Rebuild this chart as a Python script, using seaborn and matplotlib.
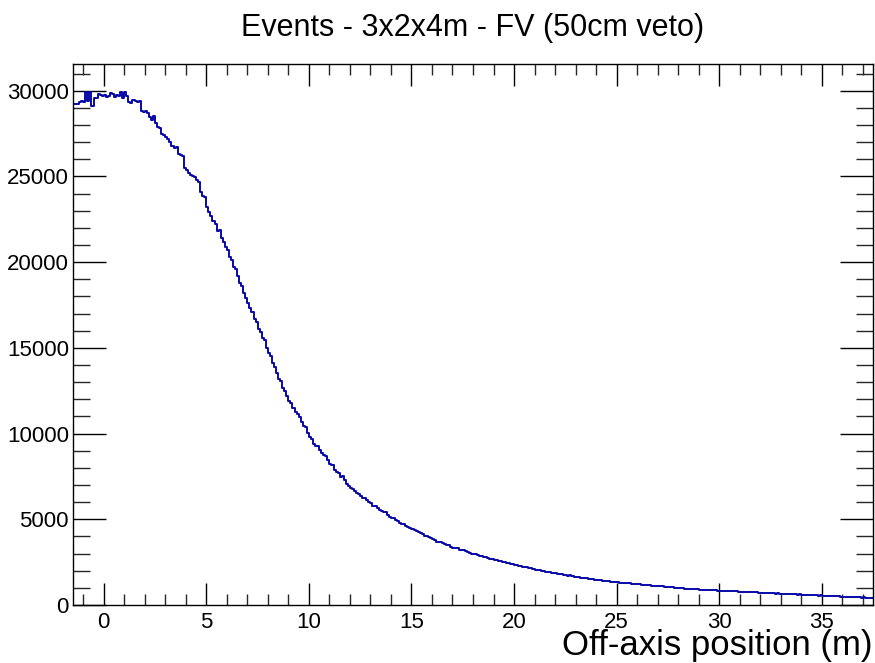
import numpy as np
import pandas as pd
import matplotlib
matplotlib.use("Agg")
import matplotlib.pyplot as plt
import seaborn as sns
from matplotlib.ticker import MultipleLocator

# Histogram: 390 bins of 0.1 m from -1.5 m to 37.5 m
x_min, x_max, bin_width = -1.5, 37.5, 0.1

counts = [
    29200, 29250, 29200, 29350, 29400, 29350, 29950, 29400, 29950, 29100,
    29550, 29600, 29800, 29750, 29700, 29750, 29650, 29700, 29850, 29800,
    29650, 29750, 29700, 29950, 29600, 29900, 29700, 29350, 29300, 29450,
    29400, 29350, 29400, 28800, 28750, 28800, 28700, 28450, 28300, 28550,
    28100, 27900, 27800, 27500, 27400, 27300, 27200, 27000, 26800, 26650,
    26700, 26300, 26250, 26200, 25500, 25350, 25200, 25100, 25000, 24950,
    24800, 24700, 24100, 23850, 23800, 23200, 22900, 22700, 22400, 22200,
    21800, 21900, 21400, 21200, 20900, 20700, 20300, 20100, 19700, 19600,
    19200, 18800, 18600, 18200, 17900, 17600, 17300, 17100, 16700, 16500,
    16100, 15900, 15600, 15450, 15000, 14700, 14500, 14100, 13900, 13550,
    13200, 13050, 12650, 12500, 12200, 11900, 11800, 11500, 11250, 11150,
    10950, 10700, 10450, 10400, 10050, 9800, 9700, 9400, 9300, 9250,
    9050, 8850, 8750, 8700, 8450, 8200, 8150, 7900, 7750, 7700,
    7450, 7550, 7300, 7050, 6950, 6800, 6750, 6650, 6550, 6500,
    6350, 6250, 6250, 6150, 6000, 5950, 5800, 5750, 5650, 5550,
    5500, 5400, 5400, 5250, 5150, 5100, 5050, 4950, 4900, 4800,
    4750, 4700, 4600, 4550, 4500, 4450, 4350, 4300, 4250, 4200,
    4150, 4050, 4000, 3980, 3900, 3850, 3800, 3700, 3700, 3650,
    3600, 3550, 3500, 3500, 3400, 3350, 3330, 3300, 3220, 3200,
    3180, 3150, 3080, 3050, 3000, 2980, 2950, 2900, 2860, 2830,
    2800, 2780, 2720, 2700, 2660, 2620, 2650, 2580, 2550, 2520,
    2480, 2470, 2430, 2400, 2380, 2350, 2330, 2300, 2250, 2240,
    2190, 2200, 2130, 2150, 2080, 2060, 2040, 2020, 1990, 1960,
    1950, 1920, 1900, 1880, 1860, 1840, 1830, 1790, 1780, 1750,
    1740, 1720, 1730, 1680, 1650, 1640, 1620, 1600, 1590, 1570,
    1560, 1530, 1520, 1500, 1480, 1470, 1450, 1430, 1420, 1410,
    1400, 1380, 1370, 1350, 1340, 1330, 1310, 1300, 1290, 1280,
    1270, 1260, 1240, 1230, 1220, 1210, 1200, 1190, 1180, 1170,
    1160, 1150, 1130, 1120, 1110, 1100, 1090, 1080, 1070, 1060,
    1050, 1040, 1030, 1010, 1000, 1000, 990, 970, 960, 960,
    950, 940, 930, 920, 920, 900, 890, 880, 890, 870,
    880, 860, 850, 850, 840, 830, 840, 820, 810, 810,
    820, 800, 790, 800, 780, 780, 770, 760, 760, 750,
    750, 740, 730, 740, 720, 720, 710, 700, 700, 690,
    690, 680, 670, 680, 660, 660, 650, 640, 650, 630,
    630, 620, 620, 600, 620, 610, 590, 600, 580, 580,
    570, 570, 560, 550, 560, 540, 530, 530, 520, 520,
    520, 510, 500, 500, 490, 480, 490, 470, 470, 460,
    460, 450, 450, 440, 430, 440, 420, 410, 410, 400,
]

x_ticks = [0, 5, 10, 15, 20, 25, 30, 35]
y_ticks = [0, 5000, 10000, 15000, 20000, 25000, 30000]
y_max = 31560

title = "Events - 3x2x4m - FV (50cm veto)"
x_title = "Off-axis position (m)"

n_bins = len(counts)
centers = x_min + bin_width * (np.arange(n_bins) + 0.5)
df = pd.DataFrame({"x": centers, "w": np.asarray(counts, dtype=float)})

sns.set_style("ticks")
plt.rcParams["font.family"] = ["Liberation Sans", "DejaVu Sans"]

fig = plt.figure(figsize=(8.75, 6.63), dpi=100)
ax = fig.add_axes([73 / 875, 1 - 605 / 663, 800 / 875, (605 - 64) / 663])

sns.histplot(data=df, x="x", weights="w", binwidth=bin_width,
             binrange=(x_min, x_max), element="step",
             fill=False, color="#0808a8", linewidth=1.4, ax=ax)

ax.set_xlim(x_min, x_max)
ax.set_ylim(0, y_max)
ax.set_xticks(x_ticks)
ax.set_yticks(y_ticks)
ax.xaxis.set_minor_locator(MultipleLocator(1))
ax.yaxis.set_minor_locator(MultipleLocator(1000))

for s in ax.spines.values():
    s.set_visible(True)
    s.set_linewidth(1.0)
    s.set_color("black")

ax.tick_params(axis="x", which="major", direction="in", length=16, width=1.0,
               top=True, bottom=True, labelsize=16, pad=5, colors="black")
ax.tick_params(axis="x", which="minor", direction="in", length=8, width=1.0,
               top=True, bottom=True)
ax.tick_params(axis="y", which="major", direction="in", length=24, width=1.0,
               left=True, right=True, labelsize=16, pad=3, colors="black")
ax.tick_params(axis="y", which="minor", direction="in", length=12, width=1.0,
               left=True, right=True)

ax.set_xlabel("")
ax.set_ylabel("")
fig.text(873 / 875, 1 - 655 / 663, x_title, ha="right", va="baseline",
         fontsize=25, color="black")
fig.text(473 / 875, 1 - 36 / 663, title, ha="center", va="baseline",
         fontsize=22, color="black")

fig.savefig("out.png", dpi=100, facecolor="white")
